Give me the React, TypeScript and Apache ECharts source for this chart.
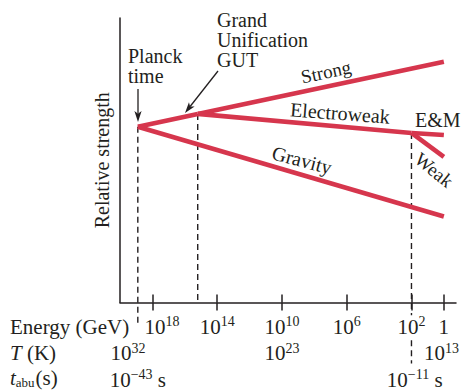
import React, { useEffect, useRef } from 'react';
import * as echarts from 'echarts';

const FONT = "'Liberation Serif', 'Times New Roman', Times, serif";
const RED = '#d6364d';
const INK = '#231f20';

// x axis: log10(Energy / GeV), drawn reversed; y axis: relative strength (arbitrary units)
const energyExpMin = -0.75;
const energyExpMax = 20;
const planckExp = 18.9;
const gutExp = 15.2;
const ewExp = 2;
const nowExp = 0;

// relative strength at each epoch
const unifiedAtPlanck = 61.8;
const unifiedAtGut = 66.3;
const strongNow = 84.6;
const electroweakAtEw = 59.6;
const emNow = 58.9;
const weakNow = 51.2;
const gravityNow = 30.2;

// tick labels
const energyTicks = [18, 14, 10, 6, 2, 0];
const tempLabelPos = [19.5, 10, 0.15];
const tempExponents = [32, 23, 13];
const timeLabelPos = [18.9, 1.8];
const timeExponents = [-43, -11];

// dashed epoch markers: [energy exponent, top strength, bottom strength]
const planckDash = [planckExp, unifiedAtPlanck, -8.4];
const gutDash = [gutExp, unifiedAtGut, 0];
const ewDashUpper = [ewExp, electroweakAtEw, -4.5];
const ewDashLower = [ewExp, -13.3, -21.4];

const supRich = {
  b: { fontFamily: FONT, fontSize: 21, lineHeight: 24, color: INK },
  s: { fontFamily: FONT, fontSize: 14, lineHeight: 16, verticalAlign: 'top', color: INK },
  g: { width: 19 },
};

function powLabel(exp: number, unit = '') {
  const e = String(exp).replace('-', '\u2212');
  return `{b|10}{s|${e}}` + (unit ? `{b| ${unit}}` : '');
}

function arrow(x1: number, y1: number, x2: number, y2: number) {
  const ang = Math.atan2(y2 - y1, x2 - x1);
  const len = 11;
  const half = 3.6;
  const bx = x2 - len * Math.cos(ang);
  const by = y2 - len * Math.sin(ang);
  const px = -Math.sin(ang) * half;
  const py = Math.cos(ang) * half;
  const nx = bx + 0.25 * (x2 - bx);
  const ny = by + 0.25 * (y2 - by);
  return [
    { type: 'line', shape: { x1, y1, x2: nx, y2: ny }, style: { stroke: INK, lineWidth: 1.3 } },
    {
      type: 'polygon',
      shape: { points: [[x2, y2], [bx + px, by + py], [nx, ny], [bx - px, by - py]] },
      style: { fill: INK },
    },
  ];
}

function txt(text: string, x: number, y: number, opts: any = {}) {
  const { rotation = 0, align = 'center', size = 20, rich, lineHeight } = opts;
  return {
    type: 'text',
    x,
    y,
    rotation,
    style: {
      text,
      x: 0,
      y: 0,
      align,
      verticalAlign: 'middle',
      fontFamily: FONT,
      fontSize: size,
      lineHeight,
      fill: INK,
      rich,
    },
  };
}

function seg(points: number[][], z = 3) {
  return {
    type: 'line',
    data: points,
    symbol: 'none',
    clip: false,
    z,
    lineStyle: { color: RED, width: 4.6, cap: 'butt', join: 'miter' },
  };
}

function dash(d: number[]) {
  return {
    type: 'line',
    data: [[d[0], d[1]], [d[0], d[2]]],
    symbol: 'none',
    clip: false,
    z: 2,
    lineStyle: { color: INK, width: 1.4, type: [6, 4] },
  };
}

function hiddenXAxis(offset: number, positions: number[], labels: string[]) {
  return {
    type: 'value',
    position: 'bottom',
    offset,
    min: energyExpMin,
    max: energyExpMax,
    inverse: true,
    axisLine: { show: false, onZero: false },
    axisTick: { show: false },
    splitLine: { show: false },
    axisLabel: {
      customValues: positions,
      margin: 12,
      formatter: (v: number) => {
        const i = positions.findIndex((p) => Math.abs(p - v) < 1e-6);
        return i >= 0 ? labels[i] : '';
      },
      rich: supRich,
    },
  };
}

export default function App() {
  const ref = useRef<HTMLDivElement>(null);
  useEffect(() => {
    if (!ref.current) return;
    const chart = echarts.init(ref.current, null, { renderer: 'svg' });
    const option: any = {
      animation: false,
      grid: { left: 120, right: 6, top: 18, bottom: 87 },
      xAxis: [
        {
          type: 'value',
          position: 'bottom',
          min: energyExpMin,
          max: energyExpMax,
          inverse: true,
          axisLine: { show: true, onZero: false, lineStyle: { color: INK, width: 1.5 } },
          axisTick: { show: true, customValues: energyTicks, length: 8, lineStyle: { color: INK, width: 1.5 } },
          splitLine: { show: false },
          axisLabel: {
            customValues: energyTicks,
            margin: 12,
            formatter: (v: number) => (v === 0 ? '{b|1}' : (v === 18 ? '{g| }' : '') + powLabel(v)),
            rich: supRich,
          },
        },
        {
          type: 'value',
          position: 'bottom',
          min: energyExpMin,
          max: energyExpMax,
          inverse: true,
          axisLine: { show: false, onZero: false },
          axisTick: { show: true, inside: true, customValues: energyTicks, length: 8, lineStyle: { color: INK, width: 1.5 } },
          splitLine: { show: false },
          axisLabel: { show: false },
        },
        hiddenXAxis(26.5, tempLabelPos, tempExponents.map((e) => powLabel(e))),
        hiddenXAxis(53, timeLabelPos, timeExponents.map((e) => powLabel(e, 's'))),
      ],
      yAxis: {
        type: 'value',
        min: 0,
        max: 100,
        axisLine: { show: true, onZero: false, lineStyle: { color: INK, width: 1.5 } },
        axisTick: { show: false },
        axisLabel: { show: false },
        splitLine: { show: false },
        name: 'Relative strength',
        nameLocation: 'middle',
        nameRotate: 90,
        nameGap: 8,
        nameTextStyle: { fontFamily: FONT, fontSize: 20, color: INK },
      },
      series: [
        dash(planckDash),
        dash(gutDash),
        dash(ewDashUpper),
        dash(ewDashLower),
        seg([[planckExp, unifiedAtPlanck], [nowExp, gravityNow]]),
        seg([[planckExp, unifiedAtPlanck], [gutExp, unifiedAtGut]]),
        seg([[gutExp, unifiedAtGut], [nowExp, strongNow]]),
        seg([[gutExp, unifiedAtGut], [ewExp, electroweakAtEw]]),
        seg([[ewExp, electroweakAtEw], [nowExp, emNow]]),
        seg([[ewExp, electroweakAtEw], [nowExp, weakNow]]),
      ],
      graphic: [
        txt('Energy (GeV)', 10, 327, { align: 'left', size: 21 }),
        txt('{i|T} (K)', 10, 353, {
          align: 'left',
          size: 21,
          rich: { i: { fontFamily: FONT, fontSize: 21, fontStyle: 'italic', color: INK } },
        }),
        txt('{i|t}{sub|abu}(s)', 10, 378, {
          align: 'left',
          size: 21,
          rich: {
            i: { fontFamily: FONT, fontSize: 21, fontStyle: 'italic', color: INK, lineHeight: 22 },
            sub: { fontFamily: FONT, fontSize: 13, color: INK, verticalAlign: 'bottom', lineHeight: 13, padding: [0, 1, 0, 0] },
          },
        }),
        txt('Planck\ntime', 128, 66, { align: 'left', size: 20, lineHeight: 20 }),
        txt('Grand\nUnification\nGUT', 217, 40, { align: 'left', size: 20, lineHeight: 20 }),
        txt('Strong', 326, 72, { rotation: 0.21, size: 19 }),
        txt('Electroweak', 340, 113, { rotation: -0.075, size: 20 }),
        txt('E&M', 415, 120, { align: 'left', size: 20 }),
        txt('Gravity', 302, 160, { rotation: -0.26, size: 20 }),
        txt('Weak', 434, 170, { rotation: -0.68, size: 19 }),
        ...arrow(138, 89, 138, 122),
        ...arrow(218, 71, 185, 113),
      ],
    };
    chart.setOption(option);
    return () => chart.dispose();
  }, []);
  return <div ref={ref} style={{ position: 'fixed', left: 0, top: 0, width: 462, height: 390, background: '#fff' }} />;
}
